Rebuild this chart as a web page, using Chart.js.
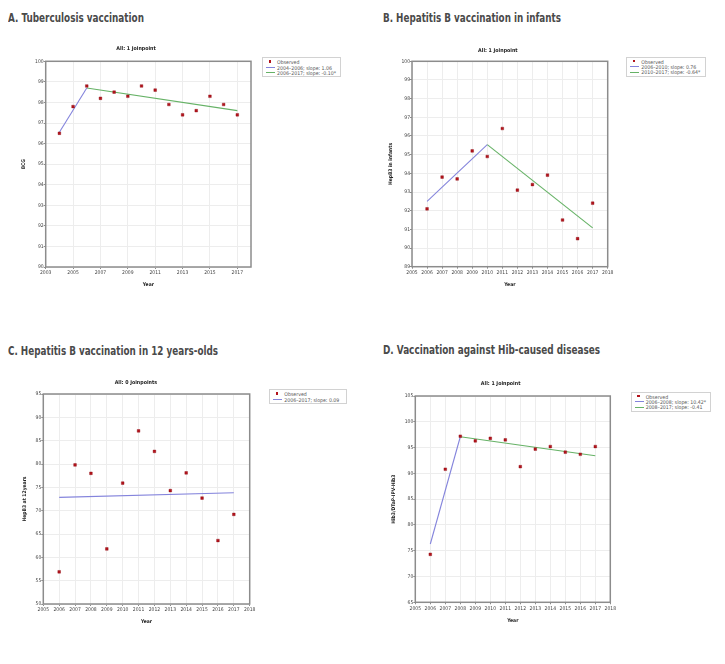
<!DOCTYPE html>
<html lang="en">
<head>
<meta charset="UTF-8">
<title>Vaccination coverage, joinpoint trends</title>
<style>
  body { margin: 0; background: #fff; }
  #page { position: relative; width: 725px; height: 664px; overflow: hidden; background: #fff; }
  .heading { position: absolute; font-family: "DejaVu Sans Condensed", "DejaVu Sans", sans-serif;
             font-weight: bold; font-size: 12.5px; color: #4a4a4a; white-space: nowrap; line-height: 14px;
             transform-origin: 0 50%; }
  canvas { position: absolute; }
  .legend { position: absolute; box-sizing: border-box; border: 1px solid #d2d2d2; background: #fff;
            font-family: "DejaVu Sans Condensed", "DejaVu Sans", sans-serif; font-size: 5.2px; color: #555;
            padding: 1.5px 2px 0 3px; white-space: nowrap; }
  .legend .row { display: flex; align-items: center; height: 5.2px; }
  .legend .sym { width: 9px; height: 5px; position: relative; margin-right: 2px; flex: none; }
  .legend .dot { position: absolute; left: 2.5px; top: 0.6px; width: 2.6px; height: 2.6px; background: #b3141c; }
  .legend .ln { position: absolute; left: 0; top: 2px; width: 9px; height: 1px; }
</style>
</head>
<body>
<div id="page"></div>

<script src="https://cdn.jsdelivr.net/npm/chart.js"></script>
<script>
    // ---- A. Tuberculosis vaccination (BCG)
    const bcgYears = [2004, 2005, 2006, 2007, 2008, 2009, 2010, 2011, 2012, 2013, 2014, 2015, 2016, 2017];
    const bcgObserved = [96.5, 97.8, 98.8, 98.2, 98.5, 98.3, 98.8, 98.6, 97.9, 97.4, 97.6, 98.3, 97.9, 97.4];
    const bcgFit1 = [[2004, 96.55], [2006, 98.7]];
    const bcgFit2 = [[2006, 98.7], [2017, 97.6]];
    const bcgLegend = ['Observed', '2004\u20132006; slope: 1.06', '2006\u20132017; slope: -0.10*'];
    const bcgXTicks = [2003, 2005, 2007, 2009, 2011, 2013, 2015, 2017];

    // ---- B. Hepatitis B in infants
    const hepYears = [2006, 2007, 2008, 2009, 2010, 2011, 2012, 2013, 2014, 2015, 2016, 2017];
    const hepInfantObserved = [92.1, 93.8, 93.7, 95.2, 94.9, 96.4, 93.1, 93.4, 93.9, 91.5, 90.5, 92.4];
    const hepInfantFit1 = [[2006, 92.5], [2010, 95.54]];
    const hepInfantFit2 = [[2010, 95.54], [2017, 91.08]];
    const hepInfantLegend = ['Observed', '2006\u20132010; slope: 0.76', '2010\u20132017; slope: -0.64*'];

    // ---- C. Hepatitis B in 12 year-olds
    const hep12Observed = [56.9, 79.8, 78.0, 61.8, 75.9, 87.1, 82.7, 74.3, 78.1, 72.7, 63.6, 69.2];
    const hep12Fit1 = [[2006, 72.85], [2017, 73.85]];
    const hep12Legend = ['Observed', '2006\u20132017; slope: 0.09'];

    // ---- D. Hib
    const hibObserved = [74.3, 90.8, 97.2, 96.3, 96.8, 96.5, 91.3, 94.7, 95.2, 94.1, 93.7, 95.2];
    const hibFit1 = [[2006, 76.3], [2008, 97.1]];
    const hibFit2 = [[2008, 97.1], [2017, 93.4]];
    const hibLegend = ['Observed', '2006\u20132008; slope: 10.42*', '2008\u20132017; slope: -0.41'];

    const yearTicks = [2005, 2006, 2007, 2008, 2009, 2010, 2011, 2012, 2013, 2014, 2015, 2016, 2017, 2018];

    const pointColor = '#b3141c';
    const blue = '#8484dc';
    const green = '#66b266';

    const page = document.getElementById('page');

    const framePlugin = {
        id: 'frame',
        beforeDatasetsDraw(chart) {
            const a = chart.chartArea, ctx = chart.ctx;
            ctx.save();
            ctx.strokeStyle = '#8c8c8c';
            ctx.lineWidth = 1.5;
            ctx.strokeRect(a.left, a.top, a.right - a.left, a.bottom - a.top);
            ctx.restore();
        }
    };

    function addHeading(text, x, y, targetW) {
        const d = document.createElement('div');
        d.className = 'heading';
        d.textContent = text;
        d.style.left = x + 'px';
        d.style.top = (y - 7) + 'px';
        page.appendChild(d);
        const w = d.getBoundingClientRect().width;
        d.style.transform = 'scaleX(' + (targetW / w) + ')';
    }

    function addLegend(labels, colors, box) {
        const d = document.createElement('div');
        d.className = 'legend';
        d.style.left = box[0] + 'px';
        d.style.top = box[1] + 'px';
        d.style.width = (box[2] - box[0]) + 'px';
        d.style.height = (box[3] - box[1]) + 'px';
        labels.forEach((label, i) => {
            const row = document.createElement('div');
            row.className = 'row';
            const sym = document.createElement('span');
            sym.className = 'sym';
            const mark = document.createElement('span');
            if (i === 0) {
                mark.className = 'dot';
            } else {
                mark.className = 'ln';
                mark.style.background = colors[i - 1];
            }
            sym.appendChild(mark);
            row.appendChild(sym);
            row.appendChild(document.createTextNode(label));
            d.appendChild(row);
        });
        page.appendChild(d);
    }

    const fontFamily = '"DejaVu Sans Condensed", "DejaVu Sans", sans-serif';
    const tickSize = 5;
    const titleSize = 5.3;

    function makePanel(p) {
        const area = p.area;
        const left = Math.round(area.l - (p.yTitleOff + tickSize * 0.6));
        const top = Math.round(area.t - 20);
        const yAxisW = area.l - left;
        const titleH = area.t - top;
        const padTop = titleH - p.titleAbove - titleSize * 0.6;
        const padBottom = titleH - titleSize * 1.2 - padTop;
        const h = Math.ceil(area.b + 21 - top);
        const xAxisH = top + h - area.b;
        const w = Math.ceil(area.r - left + 10);
        const padRight = w - (area.r - left);

        const canvas = document.createElement('canvas');
        canvas.width = w;
        canvas.height = h;
        canvas.style.left = left + 'px';
        canvas.style.top = top + 'px';
        page.appendChild(canvas);

        const datasets = [{
            label: p.legend[0],
            data: p.years.map((y, i) => ({ x: y, y: p.observed[i] })),
            showLine: false,
            pointStyle: 'rect',
            pointRadius: 1.9,
            backgroundColor: pointColor,
            borderColor: '#8e0d13',
            borderWidth: 0.4
        }];
        p.fits.forEach((fit, i) => {
            datasets.push({
                label: p.legend[i + 1],
                data: fit.map(v => ({ x: v[0], y: v[1] })),
                showLine: true,
                pointRadius: 0,
                borderColor: p.fitColors[i],
                borderWidth: 1.1
            });
        });

        const tickFont = { family: fontFamily, size: tickSize };
        const axisTitleFont = { family: fontFamily, size: tickSize, weight: 'bold' };

        new Chart(canvas, {
            type: 'scatter',
            data: { datasets },
            options: {
                responsive: false,
                animation: false,
                layout: { padding: { top: 0, left: 0, bottom: 0, right: padRight } },
                plugins: {
                    legend: { display: false },
                    tooltip: { enabled: false },
                    title: {
                        display: true,
                        text: p.title,
                        color: '#222',
                        font: { family: fontFamily, size: titleSize, weight: 'bold' },
                        padding: { top: padTop, bottom: padBottom }
                    }
                },
                scales: {
                    x: {
                        type: 'linear',
                        min: p.xTicks[0],
                        max: p.xMax,
                        afterBuildTicks: s => { s.ticks = p.xTicks.map(v => ({ value: v })); },
                        afterFit: s => { s.height = xAxisH; },
                        grid: { color: '#ededed', tickColor: '#8c8c8c', tickLength: 2 },
                        border: { display: false },
                        ticks: { font: tickFont, color: '#444', padding: 1.2, maxRotation: 0, autoSkip: false, callback: v => String(v) },
                        title: { display: true, text: 'Year', color: '#222', font: axisTitleFont, padding: 0 }
                    },
                    y: {
                        min: p.yMin,
                        max: p.yMax,
                        afterFit: s => { s.width = yAxisW; },
                        grid: { color: '#ededed', tickColor: '#8c8c8c', tickLength: 2 },
                        border: { display: false },
                        ticks: { font: tickFont, color: '#444', padding: 0, stepSize: p.yStep, callback: v => String(v) },
                        title: { display: true, text: p.yTitle, color: '#222', font: axisTitleFont, padding: 0 }
                    }
                }
            },
            plugins: [framePlugin]
        });

        addLegend(p.legend, p.fitColors, p.legendBox);
    }

    addHeading('A. Tuberculosis vaccination', 8.3, 18.3, 136);
    addHeading('B. Hepatitis B vaccination in infants', 382.7, 18.3, 178);
    addHeading('C. Hepatitis B vaccination in 12 years-olds', 8.3, 350.7, 210);
    addHeading('D. Vaccination against Hib-caused diseases', 382.7, 350.3, 217);

    makePanel({
        area: { l: 45.7, t: 61.3, r: 251, b: 267 }, yTitleOff: 21.4, titleAbove: 12.3,
        title: 'All: 1 Joinpoint', yTitle: 'BCG',
        years: bcgYears, observed: bcgObserved, fits: [bcgFit1, bcgFit2], fitColors: [blue, green],
        legend: bcgLegend, legendBox: [262, 57.3, 341.3, 77.3],
        xTicks: bcgXTicks, xMax: 2018, yMin: 90, yMax: 100, yStep: 1
    });
    makePanel({
        area: { l: 412, t: 61.3, r: 607.7, b: 266.7 }, yTitleOff: 20.7, titleAbove: 10.7,
        title: 'All: 1 Joinpoint', yTitle: 'HepB3 in infants',
        years: hepYears, observed: hepInfantObserved, fits: [hepInfantFit1, hepInfantFit2], fitColors: [blue, green],
        legend: hepInfantLegend, legendBox: [626.3, 56.7, 706.3, 77.3],
        xTicks: yearTicks, xMax: 2018, yMin: 89, yMax: 100, yStep: 1
    });
    makePanel({
        area: { l: 43.3, t: 394, r: 249.7, b: 604 }, yTitleOff: 18.3, titleAbove: 11.7,
        title: 'All: 0 Joinpoints', yTitle: 'HepB3 at 12years',
        years: hepYears, observed: hep12Observed, fits: [hep12Fit1], fitColors: [blue],
        legend: hep12Legend, legendBox: [269.3, 389.3, 347.3, 404.3],
        xTicks: yearTicks, xMax: 2018, yMin: 50, yMax: 95, yStep: 5
    });
    makePanel({
        area: { l: 415.3, t: 396, r: 610.3, b: 602.3 }, yTitleOff: 21, titleAbove: 12,
        title: 'All: 1 Joinpoint', yTitle: 'Hib3/DTaP-IPV-Hib3',
        years: hepYears, observed: hibObserved, fits: [hibFit1, hibFit2], fitColors: [blue, green],
        legend: hibLegend, legendBox: [630.7, 391.7, 710.7, 411.7],
        xTicks: yearTicks, xMax: 2018, yMin: 65, yMax: 105, yStep: 5
    });
</script>
</body>
</html>
